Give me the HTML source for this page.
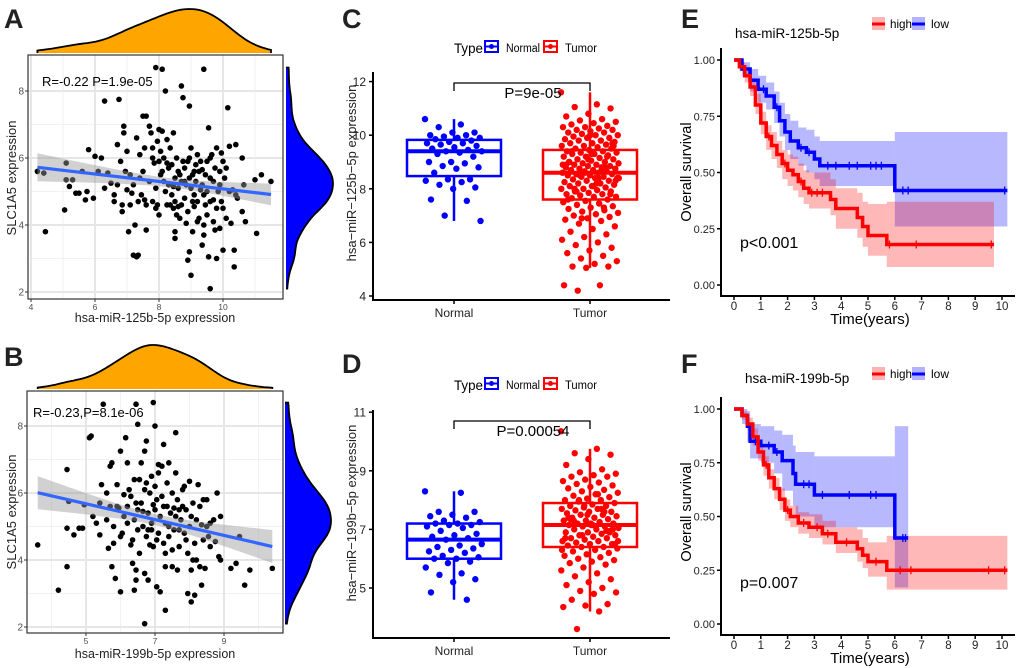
<!DOCTYPE html>
<html><head><meta charset="utf-8">
<style>
html,body{margin:0;padding:0;background:#fff;}
svg{display:block;font-family:"Liberation Sans",Arial,sans-serif;}
</style></head>
<body>
<svg id="fig" width="1020" height="668" viewBox="0 0 1020 668" xmlns="http://www.w3.org/2000/svg"></svg>
<script>
// ---------- DATA ----------
const aX=[4.2,4.4,4.45,5.05,5.1,5.1,5.3,5.2,5.4,5.5,5.6,5.7,5.75,5.8,5.95,6.0,6.1,6.2,6.3,6.3,6.4,6.5,6.6,6.7,6.75,6.8,6.85,6.9,6.9,7.0,7.0,7.05,7.1,7.15,7.2,7.3,7.35,7.25,7.3,7.4,7.4,7.5,7.6,7.55,7.6,7.7,7.75,7.8,7.85,7.9,7.9,7.95,8.0,8.05,8.1,8.1,8.2,8.15,8.25,8.3,8.35,8.4,8.45,8.5,8.5,8.55,8.6,8.65,8.7,8.75,8.8,8.8,8.85,8.9,8.95,8.95,9.0,9.0,9.05,9.1,9.15,9.2,9.25,9.3,9.35,9.4,9.4,9.45,9.5,9.55,9.55,9.6,9.6,9.7,9.75,9.8,9.8,9.85,9.9,9.95,10.0,10.0,10.1,10.15,10.2,10.25,10.3,10.35,10.35,10.4,10.45,10.6,10.6,10.7,10.65,11.0,11.05,11.2,11.5,
8.1,8.2,8.3,8.4,8.5,8.55,8.6,8.7,8.75,8.8,8.85,8.9,8.95,9.05,9.1,9.15,9.2,9.25,9.35,9.4,9.45,9.5,9.6,9.65,9.7,9.8,9.9,9.95,10.05,10.1,7.9,7.95,8.0,7.8,7.7,7.6,7.5,7.45,7.35,7.2,7.1,6.95,6.85,6.7,6.6,8.45,8.35,8.25,8.65,8.9,9.0,9.3,9.5,9.75,10.2,10.4,8.05,8.15,8.5,8.7,9.1,9.2,9.4,9.6,9.9,8.0,7.8,7.55,8.6,9.05,8.25,8.45,8.95,9.35,9.7,10.0];
const aY=[5.6,5.55,3.8,4.45,5.85,5.35,5.35,5.15,4.95,4.95,5.6,4.75,5.0,6.25,4.8,6.05,5.6,6.0,7.7,5.1,5.55,5.25,4.9,6.4,7.75,5.9,4.4,6.95,6.75,6.2,5.05,3.8,5.5,4.95,3.1,3.05,3.1,4.0,6.6,5.4,6.1,7.25,7.25,4.75,3.85,6.95,6.75,6.3,5.85,8.7,4.5,6.5,6.85,5.5,8.65,6.8,8.0,6.0,6.55,5.2,4.6,5.8,6.75,3.8,3.6,4.3,5.6,5.5,8.15,7.8,5.3,4.8,4.05,2.95,7.55,3.2,5.1,2.5,3.8,4.55,5.8,6.1,4.2,5.05,3.4,3.7,8.65,4.6,5.9,3.05,6.9,2.1,5.4,4.75,3.85,3.0,6.3,5.0,3.9,6.15,4.5,3.25,5.7,7.5,6.35,4.05,5.05,2.75,3.25,6.4,4.8,6.0,4.4,4.1,5.2,5.35,3.75,5.5,5.3,
5.6,5.0,5.7,4.9,5.4,6.0,5.1,4.6,5.9,5.7,5.2,4.4,6.0,5.5,4.9,5.3,4.7,5.6,5.2,4.9,5.5,4.3,4.7,6.1,5.3,4.5,5.2,4.7,5.4,4.2,5.1,4.6,5.9,4.7,5.3,4.6,5.6,4.9,4.7,5.2,4.6,5.6,4.6,5.2,4.7,4.5,6.3,4.6,4.2,5.9,6.3,5.9,5.0,5.7,5.0,4.9,6.2,5.3,4.7,5.3,5.6,4.1,4.0,6.0,5.6,4.3,6.0,6.3,4.55,4.7,5.85,5.15,5.4,5.65,4.1,5.9];
const bX=[3.6,4.2,4.45,4.45,4.45,4.5,4.65,4.8,4.9,4.95,5.1,5.15,5.2,5.3,5.4,5.4,5.45,5.5,5.6,5.65,5.7,5.75,5.75,5.8,5.85,5.9,5.95,6.0,6.0,6.05,6.1,6.15,6.2,6.2,6.3,6.35,6.4,6.4,6.45,6.45,6.45,6.5,6.5,6.55,6.6,6.7,6.7,6.7,6.75,6.75,6.8,6.85,6.9,6.95,7.0,7.0,7.05,7.1,7.15,7.2,7.25,7.3,7.3,7.35,7.4,7.5,7.6,7.6,7.65,7.7,7.8,7.9,7.95,8.0,8.05,8.05,8.1,8.15,8.25,8.3,8.35,8.45,8.5,8.6,8.75,8.8,8.85,8.9,8.9,9.2,9.35,9.45,9.6,9.75,10.4,
6.3,6.4,6.5,6.6,6.65,6.7,6.75,6.8,6.85,6.9,6.95,7.0,7.05,7.1,7.15,7.2,7.25,7.3,7.35,7.4,7.45,7.5,7.55,7.6,7.65,7.7,7.75,7.8,7.85,7.9,8.0,8.1,8.15,8.2,8.3,8.4,8.5,8.6,8.7,6.1,6.0,5.9,5.8,5.7,5.6,6.2,6.35,6.55,6.9,7.1,7.3,7.5,7.7,7.95,8.2,8.4,8.55,6.65,6.95,7.25,7.55,7.05,6.45,6.25,7.85,8.05,8.35,7.4,6.8];
const bY=[4.45,3.1,3.8,4.95,6.7,5.75,4.75,4.95,4.95,5.65,7.65,7.7,5.3,5.1,4.75,5.7,6.25,8.65,6.0,4.35,6.8,6.9,3.8,4.5,3.45,6.25,5.55,3.05,7.25,4.8,5.95,7.65,6.9,5.1,4.45,3.9,3.1,6.4,3.4,3.7,8.65,8.05,5.5,4.2,6.9,3.6,2.1,7.25,7.55,6.3,3.4,4.45,4.9,8.7,8.0,5.5,3.2,6.85,3.05,6.8,7.45,3.8,2.5,5.6,6.9,3.8,7.8,6.6,3.7,4.9,5.6,4.6,3.0,6.35,3.7,2.75,4.0,2.95,6.25,3.8,3.25,3.75,5.8,5.1,4.55,6.0,4.1,4.0,5.3,3.75,3.9,4.7,3.25,3.7,3.75,
5.9,5.2,4.9,5.7,5.0,6.1,4.7,5.4,6.0,5.1,4.4,6.2,5.8,4.8,5.3,5.9,4.5,5.1,6.3,4.7,5.4,6.0,4.9,5.3,5.8,4.4,5.2,6.1,4.8,5.5,5.0,5.7,4.5,5.2,5.6,4.6,5.0,4.4,5.2,5.3,4.7,5.6,5.0,5.6,5.2,5.6,4.6,6.4,6.5,6.6,4.2,4.3,5.5,4.2,4.0,5.8,4.7,5.45,5.65,5.6,5.55,4.6,5.7,6.1,6.2,5.3,5.05,5.0,4.9];
const cNormal=[10.6,10.4,10.3,10.1,10.1,10.0,10.0,9.95,9.9,9.9,9.85,9.8,9.75,9.7,9.7,9.65,9.6,9.55,9.5,9.45,9.4,9.4,9.35,9.3,9.2,9.0,9.0,8.95,8.85,8.8,8.75,8.6,8.35,8.35,8.3,8.25,8.15,8.05,8.0,7.6,7.55,7.0,6.8];
const cTumor=[11.6,11.15,11.05,11.0,10.8,10.7,10.6,10.55,10.5,10.45,10.4,10.35,10.3,10.3,10.25,10.2,10.2,10.15,10.1,10.1,10.05,10.0,10.0,9.95,9.9,9.9,9.85,9.8,9.8,9.75,9.7,9.7,9.65,9.6,9.6,9.55,9.5,9.5,9.45,9.4,9.4,9.35,9.35,9.3,9.3,9.25,9.2,9.2,9.15,9.1,9.1,9.05,9.0,9.0,8.95,8.95,8.9,8.9,8.85,8.85,8.8,8.8,8.75,8.75,8.7,8.7,8.65,8.65,8.6,8.6,8.55,8.55,8.5,8.5,8.45,8.45,8.4,8.4,8.35,8.3,8.3,8.25,8.2,8.2,8.15,8.1,8.1,8.05,8.0,8.0,7.95,7.9,7.9,7.85,7.8,7.8,7.75,7.7,7.7,7.65,7.6,7.55,7.5,7.45,7.4,7.35,7.3,7.25,7.2,7.15,7.1,7.05,7.0,6.95,6.9,6.85,6.8,6.7,6.6,6.5,6.4,6.3,6.2,6.1,6.0,5.9,5.8,5.7,5.6,5.5,5.4,5.3,5.2,5.1,5.1,5.05,4.4,4.4,4.2,9.6,9.3,9.0,8.8,8.6,8.4,8.2,8.0,7.8,9.1,8.9,8.7,8.5,8.3,8.1,9.4,9.2,8.6,8.9,8.4,7.9,9.7,10.0,7.6,7.3,6.9];
const dNormal=[8.3,8.25,7.6,7.6,7.5,7.45,7.4,7.3,7.25,7.2,7.2,7.15,7.15,7.1,7.05,6.95,6.85,6.8,6.75,6.7,6.65,6.5,6.45,6.4,6.35,6.3,6.25,6.2,6.1,6.05,6.0,6.0,5.9,5.85,5.7,5.5,5.45,5.3,5.2,4.85,4.6];
const dTumor=[10.35,9.75,9.6,9.55,9.4,9.2,9.05,8.95,8.9,8.85,8.8,8.8,8.7,8.65,8.6,8.55,8.5,8.45,8.4,8.35,8.3,8.25,8.2,8.15,8.1,8.05,8.0,8.0,7.95,7.9,7.85,7.8,7.8,7.75,7.7,7.7,7.65,7.6,7.6,7.55,7.5,7.5,7.45,7.4,7.4,7.35,7.3,7.3,7.25,7.2,7.2,7.15,7.15,7.1,7.1,7.05,7.0,7.0,6.95,6.9,6.9,6.85,6.8,6.8,6.75,6.7,6.7,6.65,6.6,6.6,6.55,6.5,6.5,6.45,6.4,6.4,6.35,6.3,6.25,6.2,6.15,6.1,6.05,6.0,5.95,5.9,5.85,5.8,5.7,5.6,5.5,5.4,5.3,5.2,5.1,5.0,4.9,4.85,4.8,4.6,4.45,4.4,4.35,4.2,3.6,7.0,7.2,7.4,7.6,6.8,6.6,7.1,7.3,6.9,7.5,6.7,7.7,8.0,6.5,7.15,7.35,6.95,7.8,6.3,8.2];
const eHt=[0,0.2,0.4,0.6,0.8,1.0,1.2,1.4,1.6,1.8,2.0,2.2,2.4,2.6,2.8,3.6,3.8,4.6,4.8,5.0,5.7];
const eHs=[1,0.97,0.93,0.88,0.80,0.72,0.66,0.62,0.58,0.54,0.51,0.49,0.46,0.43,0.41,0.38,0.34,0.30,0.26,0.22,0.18];
const eHlo=[1,0.95,0.90,0.84,0.76,0.67,0.60,0.56,0.52,0.47,0.44,0.42,0.39,0.36,0.34,0.31,0.25,0.21,0.17,0.13,0.08];
const eHhi=[1,0.99,0.96,0.92,0.85,0.77,0.71,0.68,0.64,0.60,0.58,0.57,0.54,0.51,0.50,0.47,0.43,0.41,0.37,0.36,0.37];
const eHend=9.7, eHcens=[1.3,1.9,2.5,2.9,3.1,3.3,5.8,6.8,9.6];
const eLt=[0,0.3,0.6,0.9,1.2,1.5,1.7,1.9,2.1,2.4,2.7,3.0,3.2,6.0];
const eLs=[1,0.96,0.91,0.87,0.84,0.79,0.73,0.68,0.64,0.61,0.59,0.56,0.53,0.42];
const eLlo=[1,0.93,0.86,0.81,0.78,0.72,0.66,0.60,0.56,0.53,0.50,0.47,0.44,0.26];
const eLhi=[1,0.99,0.96,0.93,0.90,0.86,0.81,0.76,0.73,0.70,0.69,0.66,0.64,0.68];
const eLend=10.2, eLcens=[1.1,1.6,2.5,2.8,3.5,3.8,4.3,4.6,5.1,5.3,5.5,6.3,6.5,10.1];
const fHt=[0,0.3,0.5,0.7,0.9,1.1,1.3,1.5,1.7,1.9,2.1,2.4,2.8,3.3,3.8,4.6,4.8,5.0,5.7];
const fHs=[1,0.97,0.93,0.87,0.80,0.74,0.68,0.63,0.58,0.53,0.50,0.47,0.45,0.42,0.38,0.35,0.32,0.29,0.25];
const fHlo=[1,0.95,0.90,0.83,0.76,0.69,0.63,0.58,0.53,0.48,0.45,0.42,0.40,0.37,0.33,0.29,0.26,0.22,0.16];
const fHhi=[1,0.99,0.96,0.91,0.84,0.78,0.72,0.68,0.63,0.58,0.55,0.52,0.51,0.48,0.45,0.44,0.40,0.38,0.41];
const fHend=10.2, fHcens=[1.2,2.0,2.6,3.1,3.5,4.2,5.3,6.2,6.6,9.5,10.1];
const fLt=[0,0.3,0.5,0.6,1.0,1.5,1.8,2.2,2.3,3.0,6.0];
const fLs=[1,0.97,0.92,0.85,0.83,0.80,0.76,0.70,0.65,0.60,0.40];
const fLlo=[1,0.93,0.85,0.77,0.75,0.70,0.62,0.55,0.50,0.45,0.17];
const fLhi=[1,1.0,0.99,0.93,0.92,0.90,0.88,0.83,0.80,0.78,0.92];
const fLend=6.5, fLcens=[0.8,1.3,1.6,2.6,2.8,3.3,4.3,5.1,5.3,6.3,6.4];
const kmTicks=[0,1,2,3,4,5,6,7,8,9,10];
const survTicks=[0,0.25,0.5,0.75,1];

// ---------- HELPERS ----------
const svg=document.getElementById('fig');
const NS='http://www.w3.org/2000/svg';
function mk(tag,attrs,name,parent){
  const el=document.createElementNS(NS,tag);
  for(const k in attrs) el.setAttribute(k,attrs[k]);
  
  
  (parent||svg).appendChild(el);
  return el;
}
function txt(x,y,s,size,name,opts){
  opts=opts||{};
  const a={x:x,y:y,'font-size':size,fill:opts.fill||'#000'};
  if(opts.anchor) a['text-anchor']=opts.anchor;
  if(opts.weight) a['font-weight']=opts.weight;
  if(opts.len){a.textLength=opts.len;a.lengthAdjust='spacingAndGlyphs';}
  if(opts.rot) a.transform='rotate(-90 '+x+' '+y+')';
  const t=mk('text',a,name);
  t.textContent=s;
  return t;
}
function mean(a){return a.reduce((p,c)=>p+c,0)/a.length;}
function sd(a){const m=mean(a);return Math.sqrt(a.reduce((p,c)=>p+(c-m)*(c-m),0)/(a.length-1));}
function kde(a,v,f){const h=f*1.06*sd(a)*Math.pow(a.length,-0.2);let s=0;for(const x of a){const z=(v-x)/h;s+=Math.exp(-0.5*z*z);}return s/(a.length*h);}
function quant(a,p){const s=[...a].sort((x,y)=>x-y);const i=(s.length-1)*p;const lo=Math.floor(i),hi=Math.ceil(i);return s[lo]+(s[hi]-s[lo])*(i-lo);}

// ---------- SCATTER PANEL ----------
function scatterPanel(o){
  const X=o.X,Y=o.Y,xs=o.xs,ys=o.ys;
  mk('rect',{x:o.L,y:o.T,width:o.R-o.L,height:o.B-o.T,fill:'#fff'},o.p+'-plot-bg');
  o.minor.forEach(v=>mk('line',{x1:X(v),x2:X(v),y1:o.T,y2:o.B,stroke:'#f2f2f2','stroke-width':1},o.p+'-minor-grid-x'));
  o.yminor.forEach(v=>mk('line',{x1:o.L,x2:o.R,y1:Y(v),y2:Y(v),stroke:'#f2f2f2','stroke-width':1},o.p+'-minor-grid-y'));
  o.xt.forEach(v=>mk('line',{x1:X(v),x2:X(v),y1:o.T,y2:o.B,stroke:'#e6e6e6','stroke-width':2},o.p+'-grid-x'));
  o.yt.forEach(v=>mk('line',{x1:o.L,x2:o.R,y1:Y(v),y2:Y(v),stroke:'#e6e6e6','stroke-width':2},o.p+'-grid-y'));
  xs.forEach((v,i)=>mk('circle',{cx:X(v),cy:Y(ys[i]),r:2.8,fill:'#000'},o.p+'-point'));
  const mx=mean(xs),my=mean(ys);let sxy=0,sxx=0;xs.forEach((v,i)=>{sxy+=(v-mx)*(ys[i]-my);sxx+=(v-mx)*(v-mx);});
  const b=sxy/sxx,a0=my-b*mx;const n=xs.length;let rss=0;xs.forEach((v,i)=>{const e=ys[i]-a0-b*v;rss+=e*e;});
  const se=Math.sqrt(rss/(n-2));const x0=Math.min(...xs),x1=Math.max(...xs);
  let up='',dn='';const N=30;
  for(let k=0;k<=N;k++){const xv=x0+(x1-x0)*k/N;const yv=a0+b*xv;const w=1.97*se*Math.sqrt(1/n+(xv-mx)*(xv-mx)/sxx)*0.85;
    up+=(k?'L':'M')+X(xv).toFixed(1)+' '+Y(yv+w).toFixed(1);dn=' L'+X(xv).toFixed(1)+' '+Y(yv-w).toFixed(1)+dn;}
  mk('path',{d:up+dn+'Z',fill:'#999',opacity:0.45},o.p+'-regression-ci');
  mk('line',{x1:X(x0),y1:Y(a0+b*x0),x2:X(x1),y2:Y(a0+b*x1),stroke:'#3366ff','stroke-width':3.2},o.p+'-regression-line');
  mk('rect',{x:o.L,y:o.T,width:o.R-o.L,height:o.B-o.T,fill:'none',stroke:'#333','stroke-width':1.2},o.p+'-plot-border');
  o.xt.forEach(v=>{mk('line',{x1:X(v),x2:X(v),y1:o.B,y2:o.B+3,stroke:'#333'},o.p+'-x-tick');txt(X(v),o.B+11,String(v),8.5,o.p+'-x-tick-label',{anchor:'middle',fill:'#4d4d4d'});});
  o.yt.forEach(v=>{mk('line',{x1:o.L-3,x2:o.L,y1:Y(v),y2:Y(v),stroke:'#333'},o.p+'-y-tick');txt(o.L-4,Y(v)+3.5,String(v),10,o.p+'-y-tick-label',{anchor:'end',fill:'#4d4d4d'});});
  let d='';const M=80;let mxd=0;const vals=[];
  for(let k=0;k<=M;k++){const xv=x0+(x1-x0)*k/M;const dv=kde(xs,xv,0.9);vals.push([xv,dv]);mxd=Math.max(mxd,dv);}
  d='M'+X(x0)+' '+o.topBase;vals.forEach(p=>{d+=' L'+X(p[0]).toFixed(1)+' '+(o.topBase-p[1]/mxd*o.topH).toFixed(1);});d+=' L'+X(x1)+' '+o.topBase;
  mk('path',{d:d,fill:'#ffa500',stroke:'#000','stroke-width':1.8},o.p+'-x-density');
  const y0=Math.min(...ys),y1=Math.max(...ys);const vv=[];let myd=0;
  for(let k=0;k<=M;k++){const yv=y0+(y1-y0)*k/M;const dv=kde(ys,yv,0.75);vv.push([yv,dv]);myd=Math.max(myd,dv);}
  d='M'+o.rightBase+' '+Y(y0);vv.forEach(p=>{d+=' L'+(o.rightBase+p[1]/myd*o.rightW).toFixed(1)+' '+Y(p[0]).toFixed(1);});d+=' L'+o.rightBase+' '+Y(y1);
  mk('path',{d:d,fill:'#0000ff',stroke:'#000','stroke-width':1.8},o.p+'-y-density');
}
scatterPanel({p:'panel-a',xs:aX,ys:aY,X:v=>31+(v-4)*32,Y:v=>292-(v-2)*33.5,L:28,R:283,T:55,B:299,
  xt:[4,6,8,10],minor:[5,7,9,11],yt:[2,4,6,8],yminor:[3,5,7],topBase:53,topH:44,rightBase:286,rightW:47});
scatterPanel({p:'panel-b',xs:bX,ys:bY,X:v=>86+(v-5)*34.5,Y:v=>627-(v-2)*33.5,L:27,R:283,T:391,B:633,
  xt:[5,7,9],minor:[4,6,8,10],yt:[2,4,6,8],yminor:[3,5,7],topBase:389,topH:44,rightBase:285,rightW:46});
txt(42,86,'R=-0.22 P=1.9e-05',13,'panel-a-correlation-label');
txt(33,417,'R=-0.23,P=8.1e-06',13,'panel-b-correlation-label');
txt(155,322,'hsa-miR-125b-5p expression',12.5,'panel-a-x-axis-title',{anchor:'middle',fill:'#222'});
txt(155,658,'hsa-miR-199b-5p expression',12.5,'panel-b-x-axis-title',{anchor:'middle',fill:'#222'});
txt(16,178,'SLC1A5 expression',13,'panel-a-y-axis-title',{anchor:'middle',rot:true,fill:'#222'});
txt(16,512,'SLC1A5 expression',13,'panel-b-y-axis-title',{anchor:'middle',rot:true,fill:'#222'});

// ---------- BOX PANELS ----------
function boxPanel(o){
  const Y=o.Y;
  mk('line',{x1:373,x2:373,y1:o.top,y2:o.axisY,stroke:'#000','stroke-width':2},o.p+'-y-axis');
  mk('line',{x1:372,x2:670,y1:o.axisY,y2:o.axisY,stroke:'#000','stroke-width':2},o.p+'-x-axis');
  o.yt.forEach(v=>{mk('line',{x1:369,x2:373,y1:Y(v),y2:Y(v),stroke:'#000','stroke-width':1.5},o.p+'-y-tick');txt(366,Y(v)+4.5,String(v),12,o.p+'-y-tick-label',{anchor:'end',fill:'#222'});});
  const groups=[[o.normal,454,'#0000ff','normal'],[o.tumor,590,'#ff0000','tumor']];
  groups.forEach(g=>{
    const a=g[0],cx=g[1],col=g[2];
    mk('line',{x1:cx,x2:cx,y1:o.axisY,y2:o.axisY+4,stroke:'#000','stroke-width':1.5},o.p+'-x-tick');
    txt(cx,o.axisY+17,g[3]==='normal'?'Normal':'Tumor',12,o.p+'-x-tick-label-'+g[3],{anchor:'middle',fill:'#222'});
    const q1=quant(a,0.25),q2=quant(a,0.5),q3=quant(a,0.75),iqr=q3-q1;
    const lo=Math.min(...a.filter(v=>v>=q1-1.5*iqr)),hi=Math.max(...a.filter(v=>v<=q3+1.5*iqr));
    mk('line',{x1:cx,x2:cx,y1:Y(hi),y2:Y(q3),stroke:col,'stroke-width':2.5},o.p+'-whisker-upper-'+g[3]);
    mk('line',{x1:cx,x2:cx,y1:Y(q1),y2:Y(lo),stroke:col,'stroke-width':2.5},o.p+'-whisker-lower-'+g[3]);
    mk('rect',{x:cx-47,y:Y(q3),width:94,height:Y(q1)-Y(q3),fill:'none',stroke:col,'stroke-width':2.5},o.p+'-box-'+g[3]);
    mk('line',{x1:cx-47,x2:cx+47,y1:Y(q2),y2:Y(q2),stroke:col,'stroke-width':4},o.p+'-median-'+g[3]);
    a.forEach((v,i)=>{const j=(((i*0.6180339)%1)-0.5)*58;mk('circle',{cx:cx+j,cy:Y(v),r:3.2,fill:col},o.p+'-point-'+g[3]);});
  });
  mk('path',{d:'M454 '+(o.br+8)+' V'+o.br+' H590 V'+(o.br+8),fill:'none',stroke:'#000','stroke-width':1.3},o.p+'-significance-bracket');
  txt(533,o.br+15,o.ptext,15,o.p+'-p-value',{anchor:'middle'});
  txt(454,o.legY,'Type',14,o.p+'-legend-title',{len:29});
  [[485,'#0000ff','Normal',506,34],[544,'#ff0000','Tumor',565,32]].forEach(k=>{
    mk('rect',{x:k[0],y:o.legY-12,width:13,height:11,fill:'none',stroke:k[1],'stroke-width':2},o.p+'-legend-key');
    mk('line',{x1:k[0],x2:k[0]+13,y1:o.legY-6.5,y2:o.legY-6.5,stroke:k[1],'stroke-width':2},o.p+'-legend-key-median');
    mk('circle',{cx:k[0]+6.5,cy:o.legY-6.5,r:2.5,fill:k[1]},o.p+'-legend-key-dot');
    txt(k[3],o.legY-1,k[2],11.5,o.p+'-legend-label',{len:k[4]});
  });
  txt(356,o.ytc,o.ytitle,13,o.p+'-y-axis-title',{anchor:'middle',rot:true,fill:'#222'});
}
boxPanel({p:'panel-c',Y:v=>296-(v-4)*26.8,top:72,axisY:300,yt:[4,6,8,10,12],normal:cNormal,tumor:cTumor,br:83,ptext:'P=9e-05',legY:53,ytc:173,ytitle:'hsa−miR−125b−5p expression'});
boxPanel({p:'panel-d',Y:v=>588-(v-5)*29.3,top:410,axisY:638,yt:[5,7,9,11],normal:dNormal,tumor:dTumor,br:421,ptext:'P=0.00054',legY:390,ytc:513,ytitle:'hsa−miR−199b−5p expression'});

// ---------- KM PANELS ----------
function kmPanel(o){
  const X=t=>734+t*26.8,Y=o.Y;
  function sAt(ts,ss,t){let s=ss[0];for(let i=0;i<ts.length;i++){if(ts[i]<=t)s=ss[i];}return s;}
  const series=[[o.Lt,o.Ls,o.Llo,o.Lhi,o.Lend,o.Lc,'#0000ff','rgba(0,0,255,0.28)','low'],[o.Ht,o.Hs,o.Hlo,o.Hhi,o.Hend,o.Hc,'#ff0000','rgba(255,0,0,0.28)','high']];
  series.forEach(s=>{
    const ts=s[0];
    ts.forEach((t,i)=>{const t2=i<ts.length-1?ts[i+1]:s[4];
      mk('rect',{x:X(t),y:Y(s[3][i]),width:X(t2)-X(t),height:Y(s[2][i])-Y(s[3][i]),fill:s[7]},o.p+'-ci-band-'+s[8]);});
  });
  series.forEach(s=>{
    const ts=s[0],ss=s[1];let d='M'+X(0)+' '+Y(ss[0]);
    for(let i=1;i<ts.length;i++){d+=' H'+X(ts[i]).toFixed(1)+' V'+Y(ss[i]).toFixed(1);}
    d+=' H'+X(s[4]).toFixed(1);
    mk('path',{d:d,fill:'none',stroke:s[6],'stroke-width':3.5},o.p+'-survival-curve-'+s[8]);
    s[5].forEach(t=>{const y=Y(sAt(ts,ss,t));mk('line',{x1:X(t),x2:X(t),y1:y-4,y2:y+4,stroke:s[6],'stroke-width':1.3},o.p+'-censor-mark-'+s[8]);});
  });
  mk('line',{x1:721,x2:721,y1:o.top,y2:o.axisY,stroke:'#000','stroke-width':2},o.p+'-y-axis');
  mk('line',{x1:720,x2:1015,y1:o.axisY,y2:o.axisY,stroke:'#000','stroke-width':2},o.p+'-x-axis');
  survTicks.forEach(v=>{mk('line',{x1:717,x2:721,y1:Y(v),y2:Y(v),stroke:'#000','stroke-width':1.5},o.p+'-y-tick');txt(715,Y(v)+4,v.toFixed(2),11,o.p+'-y-tick-label',{anchor:'end',fill:'#222'});});
  kmTicks.forEach(v=>{mk('line',{x1:X(v),x2:X(v),y1:o.axisY,y2:o.axisY+4,stroke:'#000','stroke-width':1.5},o.p+'-x-tick');txt(X(v),o.axisY+14,String(v),11.5,o.p+'-x-tick-label',{anchor:'middle',fill:'#222'});});
  txt(870,o.axisY+28,'Time(years)',15,o.p+'-x-axis-title',{anchor:'middle'});
  txt(691,o.ytc,'Overall survival',14.5,o.p+'-y-axis-title',{anchor:'middle',rot:true});
  txt(o.titleX,o.titleY,o.title,13.5,o.p+'-title');
  txt(740,o.pY,o.ptext,16,o.p+'-p-value');
  [[872,'rgba(255,0,0,0.3)','#ff0000','high',890,22],[912,'rgba(0,0,255,0.3)','#0000ff','low',931,18]].forEach(k=>{
    mk('rect',{x:k[0],y:o.legY-6,width:13,height:13,fill:k[1]},o.p+'-legend-key-band');
    mk('line',{x1:k[0],x2:k[0]+13,y1:o.legY+1,y2:o.legY+1,stroke:k[2],'stroke-width':3},o.p+'-legend-key-line');
    txt(k[4],o.legY+5,k[3],12,o.p+'-legend-label',{len:k[5]});
  });
}
kmPanel({p:'panel-e',Y:s=>285-s*225,top:48,axisY:296,Ht:eHt,Hs:eHs,Hlo:eHlo,Hhi:eHhi,Hend:eHend,Hc:eHcens,Lt:eLt,Ls:eLs,Llo:eLlo,Lhi:eLhi,Lend:eLend,Lc:eLcens,
  ytc:172,title:'hsa-miR-125b-5p',titleX:735,titleY:38,ptext:'p<0.001',pY:248,legY:23});
kmPanel({p:'panel-f',Y:s=>624-s*215,top:397,axisY:635,Ht:fHt,Hs:fHs,Hlo:fHlo,Hhi:fHhi,Hend:fHend,Hc:fHcens,Lt:fLt,Ls:fLs,Llo:fLlo,Lhi:fLhi,Lend:fLend,Lc:fLcens,
  ytc:512,title:'hsa-miR-199b-5p',titleX:745,titleY:383,ptext:'p=0.007',pY:588,legY:373});

// ---------- PANEL LETTERS ----------
txt(4,28,'A',27,'panel-label-a',{weight:'bold',fill:'#222'});
txt(4,366,'B',27,'panel-label-b',{weight:'bold',fill:'#222'});
txt(342,28,'C',27,'panel-label-c',{weight:'bold',fill:'#222'});
txt(342,373,'D',27,'panel-label-d',{weight:'bold',fill:'#222'});
txt(681,28,'E',27,'panel-label-e',{weight:'bold',fill:'#222'});
txt(681,373,'F',27,'panel-label-f',{weight:'bold',fill:'#222'});
</script>
</body></html>
